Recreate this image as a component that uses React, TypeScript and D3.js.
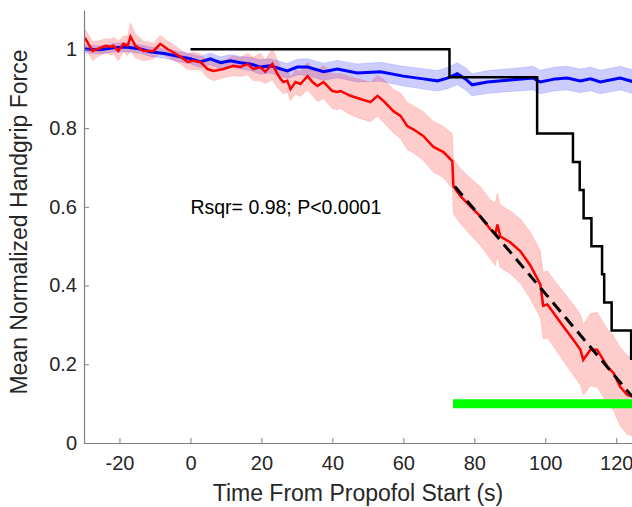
import * as d3 from "d3";
import { useEffect, useRef } from "react";

// red: propofol group mean (s), with sem
const redTime = [-30, -29.6, -27.6, -26.2, -23.9, -22.5, -21.7, -20.3, -18.9, -17.7, -16.9, -15.5, -13.2, -10.4, -8.5, -6.5, -5.1, -2.8, -0.8, 0.8, 2.8, 4.8, 6.5, 9.3, 12.1, 14.1, 16.1, 17.7, 19.7, 21.1, 23.1, 24.5, 25.4, 26.2, 27.3, 28.2, 29.6, 31.0, 33.0, 34.4, 35.8, 37.5, 40.0, 41.4, 42.3, 45.1, 47.9, 50.7, 52.7, 54.4, 57.2, 59.2, 61.1, 62.8, 65.6, 68.5, 71.3, 73.8, 74.1, 76.1, 78.9, 81.7, 84.5, 85.9, 86.5, 87.3, 90.1, 93.0, 95.8, 98.6, 99.4, 100.6, 102.3, 105.1, 107.9, 109.9, 110.7, 112.7, 114.6, 117.5, 119.2, 121.1, 123.1, 125.1];
const redMean = [1.029, 1.027, 0.996, 1.001, 1.009, 1.006, 1.009, 0.996, 1.014, 1.009, 1.032, 1.009, 0.996, 0.996, 1.014, 1.001, 0.994, 0.981, 0.968, 0.971, 0.968, 0.950, 0.945, 0.950, 0.958, 0.955, 0.963, 0.950, 0.955, 0.943, 0.963, 0.938, 0.925, 0.917, 0.920, 0.899, 0.917, 0.912, 0.932, 0.917, 0.907, 0.917, 0.894, 0.892, 0.894, 0.882, 0.874, 0.866, 0.882, 0.869, 0.843, 0.831, 0.805, 0.797, 0.780, 0.752, 0.739, 0.716, 0.652, 0.627, 0.601, 0.576, 0.543, 0.530, 0.555, 0.525, 0.510, 0.487, 0.451, 0.403, 0.349, 0.352, 0.331, 0.296, 0.262, 0.237, 0.211, 0.237, 0.237, 0.194, 0.178, 0.143, 0.122, 0.117];
const redSem = [0.02, 0.022, 0.025, 0.02, 0.018, 0.02, 0.022, 0.025, 0.02, 0.025, 0.035, 0.03, 0.025, 0.02, 0.022, 0.02, 0.02, 0.018, 0.02, 0.022, 0.02, 0.022, 0.025, 0.022, 0.025, 0.024, 0.028, 0.03, 0.035, 0.03, 0.04, 0.035, 0.03, 0.03, 0.028, 0.03, 0.03, 0.032, 0.035, 0.035, 0.04, 0.042, 0.045, 0.045, 0.045, 0.048, 0.05, 0.05, 0.052, 0.055, 0.055, 0.058, 0.06, 0.06, 0.062, 0.065, 0.065, 0.07, 0.07, 0.07, 0.072, 0.075, 0.075, 0.08, 0.08, 0.08, 0.08, 0.082, 0.085, 0.085, 0.085, 0.085, 0.085, 0.088, 0.09, 0.09, 0.09, 0.092, 0.095, 0.095, 0.095, 0.1, 0.1, 0.1];

// blue: control group mean, with sem
const blueTime = [-30, -25.4, -21.7, -18.3, -14.1, -11.3, -7.0, -2.8, 0, 2.8, 5.6, 8.5, 11.3, 14.1, 16.9, 19.7, 22.5, 27.3, 30.1, 33.0, 37.5, 41.4, 47.0, 53.5, 60.0, 65.6, 69.6, 72.4, 75.2, 77.5, 79.4, 83.7, 90.1, 96.6, 98.6, 102.8, 106.2, 109.9, 112.7, 115.5, 121.1, 125.1];
const blueMean = [1.001, 0.999, 1.004, 1.006, 1.001, 0.994, 0.989, 0.981, 0.976, 0.968, 0.976, 0.966, 0.971, 0.966, 0.963, 0.955, 0.958, 0.945, 0.955, 0.955, 0.943, 0.950, 0.940, 0.943, 0.932, 0.925, 0.920, 0.927, 0.938, 0.925, 0.910, 0.917, 0.922, 0.927, 0.917, 0.925, 0.927, 0.920, 0.925, 0.917, 0.927, 0.917];
const blueSem = [0.01, 0.01, 0.011, 0.012, 0.011, 0.012, 0.012, 0.013, 0.013, 0.014, 0.015, 0.015, 0.016, 0.016, 0.017, 0.018, 0.018, 0.019, 0.02, 0.021, 0.022, 0.022, 0.023, 0.024, 0.025, 0.026, 0.026, 0.027, 0.028, 0.028, 0.028, 0.029, 0.029, 0.03, 0.03, 0.03, 0.03, 0.03, 0.03, 0.03, 0.03, 0.03];

// fraction of subjects still responding
const stepTime = [0, 73, 97.7, 107.8, 109.7, 110.8, 113, 116, 116.6, 118.7, 124.2, 126];
const stepValue = [1, 0.929, 0.786, 0.714, 0.643, 0.571, 0.5, 0.429, 0.357, 0.286, 0.214, 0.214];

const fitTime = [74.5, 124.5];
const fitValue = [0.652, 0.118];

const sigTime = [74, 126];
const sigLevel = [0.1, 0.1];

const xTicks = [-20, 0, 20, 40, 60, 80, 100, 120];
const yTicks = [0, 0.2, 0.4, 0.6, 0.8, 1];

const W = 632, H = 507;
const margin = { top: 10, bottom: 64, left: 84, right: -2 };
const font = "'Liberation Sans', Arial, Helvetica, sans-serif";

export default function App() {
  const ref = useRef<SVGSVGElement>(null);

  useEffect(() => {
    const svg = d3.select(ref.current);
    svg.selectAll("*").remove();

    const x = d3.scaleLinear().domain([-30, 125]).range([margin.left, W - margin.right]);
    const y = d3.scaleLinear().domain([0, 1.1]).range([H - margin.bottom, margin.top]);

    svg.append("clipPath").attr("id", "plotclip")
      .append("rect")
      .attr("x", margin.left).attr("y", margin.top)
      .attr("width", W - margin.right - margin.left)
      .attr("height", H - margin.bottom - margin.top);

    const g = svg.append("g").attr("clip-path", "url(#plotclip)");

    const band = (t: number[], m: number[], s: number[]) =>
      d3.area<number>()
        .x(i => x(t[i]))
        .y0(i => y(m[i] - s[i]))
        .y1(i => y(m[i] + s[i]))(d3.range(t.length));
    const line = (t: number[], v: number[]) =>
      d3.line<number>().x(i => x(t[i])).y(i => y(v[i]))(d3.range(t.length));

    g.append("path").attr("d", band(blueTime, blueMean, blueSem))
      .attr("fill", "#0000ff").attr("fill-opacity", 0.2)
      .attr("stroke", "#0000ff").attr("stroke-opacity", 0.12);
    g.append("path").attr("d", band(redTime, redMean, redSem))
      .attr("fill", "#ff0000").attr("fill-opacity", 0.2)
      .attr("stroke", "#ff0000").attr("stroke-opacity", 0.12);

    g.append("path").attr("d", line(blueTime, blueMean))
      .attr("fill", "none").attr("stroke", "#0000ff").attr("stroke-width", 3);
    g.append("path").attr("d", line(redTime, redMean))
      .attr("fill", "none").attr("stroke", "#ff0000").attr("stroke-width", 2.5);

    g.append("path")
      .attr("d", d3.line<number>().curve(d3.curveStepAfter)
        .x(i => x(stepTime[i])).y(i => y(stepValue[i]))(d3.range(stepTime.length)))
      .attr("fill", "none").attr("stroke", "#000").attr("stroke-width", 2.5);

    g.append("path").attr("d", line(fitTime, fitValue))
      .attr("fill", "none").attr("stroke", "#000").attr("stroke-width", 3)
      .attr("stroke-dasharray", "12 7");

    g.append("path").attr("d", line(sigTime, sigLevel))
      .attr("fill", "none").attr("stroke", "#00ff00").attr("stroke-width", 9);

    // axes
    const axisColor = "#7f7f7f";
    const xAxis = svg.append("g")
      .attr("transform", `translate(0, ${H - margin.bottom})`)
      .call(d3.axisBottom(x).tickValues(xTicks).tickSizeInner(-5).tickSizeOuter(0).tickPadding(13).tickFormat(d => String(d)));
    const yAxis = svg.append("g")
      .attr("transform", `translate(${margin.left}, 0)`)
      .call(d3.axisLeft(y).tickValues(yTicks).tickSizeInner(-5).tickSizeOuter(0).tickPadding(7).tickFormat(d => String(d)));
    [xAxis, yAxis].forEach(a => {
      a.select(".domain").attr("stroke", axisColor).attr("stroke-width", 1.2);
      a.selectAll(".tick line").attr("stroke", axisColor);
      a.selectAll("text").attr("fill", "#262626").style("font-family", font).style("font-size", "20px");
    });

    svg.append("text")
      .attr("x", 358).attr("y", 501)
      .attr("text-anchor", "middle")
      .style("font-family", font).style("font-size", "23px").attr("fill", "#262626")
      .text("Time From Propofol Start (s)");

    svg.append("text")
      .attr("transform", `translate(27, 222) rotate(-90)`)
      .attr("text-anchor", "middle")
      .style("font-family", font).style("font-size", "23px").attr("fill", "#262626")
      .text("Mean Normalized Handgrip Force");

    svg.append("text")
      .attr("x", x(0)).attr("y", 214)
      .style("font-family", font).style("font-size", "19.5px").attr("fill", "#000")
      .text("Rsqr= 0.98; P<0.0001");
  }, []);

  return (
    <svg ref={ref} width={W} height={H}
      style={{ position: "absolute", left: 0, top: 0, background: "#fff" }} />
  );
}
